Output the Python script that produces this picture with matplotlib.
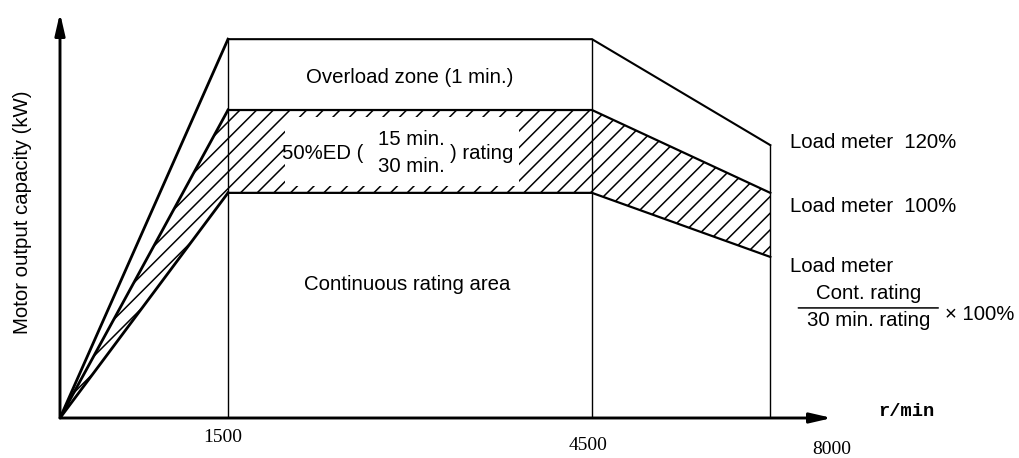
import numpy as np
import matplotlib
matplotlib.use("Agg")
import matplotlib.pyplot as plt
from matplotlib.scale import FuncScale
from matplotlib.transforms import offset_copy

# Output curves vs. spindle speed (output in % of the 30-min rating)
speed = [0, 1500, 4500, 7100]
overload = [0, 123, 123, 88.6]
rating_30min = [0, 100, 100, 73.1]
continuous = [0, 73.1, 73.1, 52.3]

speed_ticks = [1500, 4500, 8000]
speed_tick_labels = ["1500", "4500", "8000"]
speed_max = 8000
output_max = 131.5

# speed axis is schematic: piecewise-linear spacing between the marked speeds
knots_rpm = [0, 1500, 4500, 8000]
knots_pos = [0.0, 168.0, 532.0, 772.0]

SANS = "Liberation Sans"
SERIF = "Liberation Serif"
FS = 14.7
plt.rcParams["hatch.linewidth"] = 1.1


def fwd(x):
    return np.interp(x, knots_rpm, knots_pos)


def inv(p):
    return np.interp(p, knots_pos, knots_rpm)


fig = plt.figure(figsize=(10.2, 4.58), dpi=100)
ax = fig.add_axes([60 / 1020, 40 / 458, 772 / 1020, 405 / 458])
ax.set_xscale(FuncScale(ax.xaxis, (fwd, inv)))
ax.set_xlim(0, speed_max)
ax.set_ylim(0, output_max)
for s in ax.spines.values():
    s.set_visible(False)
ax.set_xticks([])
ax.set_yticks([])


def shifted(dx, dy):
    return offset_copy(ax.transData, fig=fig, x=dx, y=dy, units="dots")


# hatched 50%ED band between continuous and 30-min rating
ax.fill_between(speed, continuous, rating_30min, facecolor="none",
                edgecolor="black", hatch="//", linewidth=0, zorder=1)
# clear background behind the band label
ax.fill_between([1970, 3900], 75.4, 97.7, color="white", linewidth=0, zorder=2)

# curve outlines
ax.plot(speed[:2], overload[:2], color="black", lw=2.0, zorder=3)
ax.plot(speed[:2], rating_30min[:2], color="black", lw=2.0, zorder=3)
ax.plot(speed[:2], continuous[:2], color="black", lw=2.0, zorder=3)
ax.plot(speed[1:], overload[1:], color="black", lw=1.5, zorder=3)
ax.plot(speed[1:], rating_30min[1:], color="black", lw=1.6, zorder=3)
ax.plot(speed[1:], continuous[1:], color="black", lw=1.6, zorder=3)

# speed dividers
for x_div, top in zip(speed[1:], overload[1:]):
    ax.plot([x_div, x_div], [0, top], color="black", lw=1.0, zorder=3)

# axes with arrow heads
arrow = dict(arrowstyle="-|>,head_length=1.3,head_width=0.3", color="black",
             lw=2.1, mutation_scale=10, shrinkA=0, shrinkB=0)
ax.annotate("", xy=(0, 1), xytext=(0, 0), xycoords="axes fraction",
            textcoords="axes fraction", arrowprops=arrow, annotation_clip=False)
ax.annotate("", xy=(1, 0), xytext=(0, 0), xycoords="axes fraction",
            textcoords="axes fraction", arrowprops=arrow, annotation_clip=False)

# speed labels
tick_offsets = [(-5, -19.5), (-4, -28), (0, -32)]
for x_t, lab, (dx, dy) in zip(speed_ticks, speed_tick_labels, tick_offsets):
    ax.text(x_t, 0, lab, transform=shifted(dx, dy), ha="center", va="center",
            family=SERIF, fontsize=14, clip_on=False)
ax.text(speed_max, 0, "r/min", transform=shifted(46, 6), ha="left", va="center",
        family="Liberation Mono", fontweight="bold", fontsize=13.5, clip_on=False)

ax.text(-0.0492, 0.5086, "Motor output capacity (kW)", transform=ax.transAxes,
        rotation=90, ha="center", va="center", family=SANS, fontsize=FS)

# zone labels
mid = (speed[1] + speed[2]) / 2
ax.text(mid, 110.4, "Overload zone (1 min.)", ha="center", va="center",
        family=SANS, fontsize=FS, zorder=4)
ax.text(2613, 86, "50%ED (", ha="right", va="center", family=SANS,
        fontsize=FS, zorder=4)
ax.text(3008, 90.3, "15 min.", ha="center", va="center", family=SANS,
        fontsize=FS, zorder=4)
ax.text(3008, 81.5, "30 min.", ha="center", va="center", family=SANS,
        fontsize=FS, zorder=4)
ax.text(3330, 86, ") rating", ha="left", va="center", family=SANS,
        fontsize=FS, zorder=4)
ax.text(2975, 43.2, "Continuous rating area", ha="center", va="center",
        family=SANS, fontsize=FS, zorder=4)

# load meter notes at the top speed
x_end = speed[-1]
ax.text(x_end, overload[-1], "Load meter  120%", transform=shifted(20, 3),
        ha="left", va="center", family=SANS, fontsize=FS, clip_on=False)
ax.text(x_end, rating_30min[-1], "Load meter  100%", transform=shifted(20, -14),
        ha="left", va="center", family=SANS, fontsize=FS, clip_on=False)
ax.text(x_end, continuous[-1], "Load meter", transform=shifted(20, -10),
        ha="left", va="center", family=SANS, fontsize=FS, clip_on=False)
ax.text(x_end, continuous[-1], "Cont. rating", transform=shifted(98, -37),
        ha="center", va="center", family=SANS, fontsize=FS, clip_on=False)
ax.text(x_end, continuous[-1], "30 min. rating", transform=shifted(98, -64),
        ha="center", va="center", family=SANS, fontsize=FS, clip_on=False)
ax.text(x_end, continuous[-1], "\u00d7 100%", transform=shifted(175, -58),
        ha="left", va="center", family=SANS, fontsize=FS, clip_on=False)
ax.annotate("", xy=(x_end, continuous[-1]), xycoords=shifted(168, -51),
            xytext=(x_end, continuous[-1]), textcoords=shifted(28, -51),
            arrowprops=dict(arrowstyle="-", lw=1.1, color="black",
                            shrinkA=0, shrinkB=0),
            annotation_clip=False)

fig.savefig("out.png", dpi=100)
